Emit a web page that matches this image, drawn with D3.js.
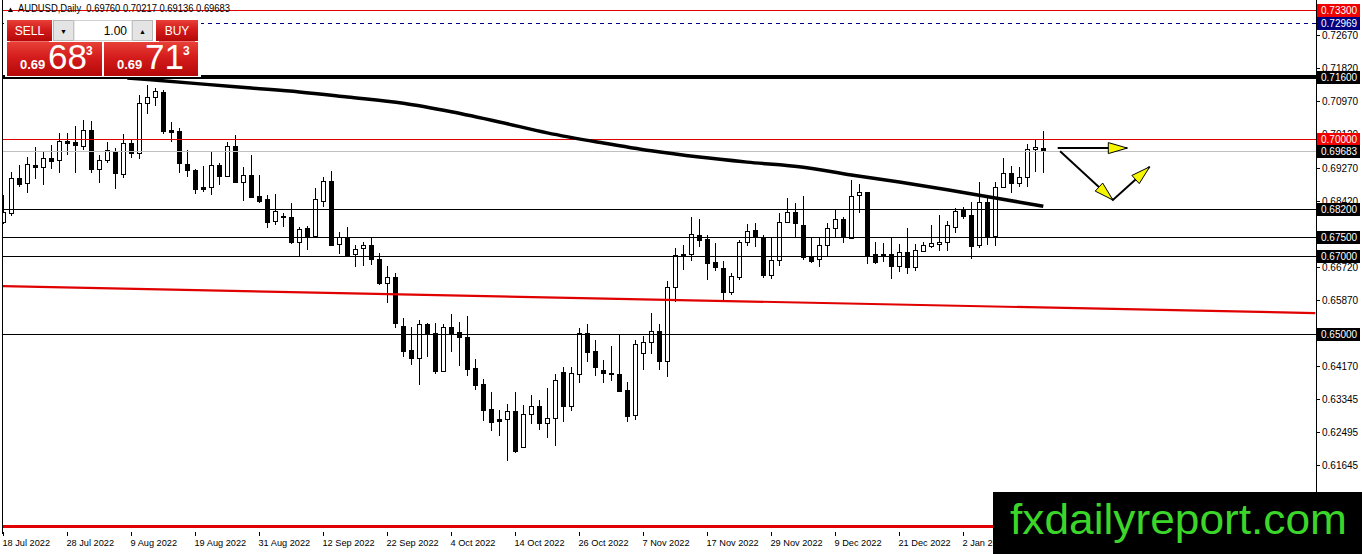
<!DOCTYPE html>
<html>
<head>
<meta charset="utf-8">
<script src="https://cdn.jsdelivr.net/npm/d3@7"></script>
<style>
  body { margin: 0; background: #fff; overflow: hidden; }
  svg { display: block; }
  text { font-family: "Liberation Sans", Arial, sans-serif; }
</style>
</head>
<body>
<svg id="chart" width="1362" height="554"></svg>
<script>
// daily AUDUSD candles, 18 Jul 2022 .. 16 Jan 2023 (one entry per weekday)
const opens = [
  0.6787, 0.6810, 0.6900, 0.6887, 0.6933, 0.6928, 0.6951, 0.6946, 0.6995, 0.6993,
  0.6983, 0.7023, 0.6923, 0.6946, 0.6969, 0.6911, 0.6990, 0.6964, 0.7092, 0.7108,
  0.7121, 0.7023, 0.7020, 0.6936, 0.6921, 0.6877, 0.6877, 0.6933, 0.6905, 0.6983,
  0.6890, 0.6908, 0.6854, 0.6846, 0.6790, 0.6803, 0.6800, 0.6736, 0.6772, 0.6751,
  0.6841, 0.6892, 0.6731, 0.6749, 0.6705, 0.6721, 0.6728, 0.6692, 0.6631, 0.6646,
  0.6520, 0.6459, 0.6438, 0.6526, 0.6502, 0.6405, 0.6518, 0.6505, 0.6492, 0.6413,
  0.6372, 0.6308, 0.6282, 0.6282, 0.6302, 0.6210, 0.6295, 0.6315, 0.6272, 0.6284,
  0.6402, 0.6315, 0.6397, 0.6502, 0.6456, 0.6407, 0.6400, 0.6397, 0.6356, 0.6292,
  0.6451, 0.6479, 0.6508, 0.6431, 0.6620, 0.6703, 0.6705, 0.6754, 0.6744, 0.6685,
  0.6669, 0.6608, 0.6646, 0.6736, 0.6767, 0.6749, 0.6651, 0.6690, 0.6787, 0.6813,
  0.6779, 0.6697, 0.6692, 0.6728, 0.6772, 0.6795, 0.6746, 0.6856, 0.6864, 0.6705,
  0.6705, 0.6705, 0.6674, 0.6710, 0.6672, 0.6713, 0.6726, 0.6731, 0.6736, 0.6774,
  0.6821, 0.6805, 0.6728, 0.6838, 0.6751, 0.6877, 0.6913, 0.6887, 0.6903, 0.6974,
  0.69760
];
const highs = [
  0.6856, 0.6916, 0.6933, 0.6954, 0.6980, 0.6967, 0.6985, 0.7015, 0.7015, 0.7033,
  0.7049, 0.7046, 0.6959, 0.6993, 0.6977, 0.7013, 0.6998, 0.7113, 0.7139, 0.7131,
  0.7126, 0.7044, 0.7028, 0.6972, 0.6923, 0.6931, 0.6967, 0.6938, 0.6993, 0.7010,
  0.6928, 0.6959, 0.6908, 0.6856, 0.6859, 0.6810, 0.6836, 0.6774, 0.6777, 0.6874,
  0.6903, 0.6918, 0.6762, 0.6774, 0.6728, 0.6736, 0.6749, 0.6708, 0.6674, 0.6656,
  0.6541, 0.6518, 0.6536, 0.6528, 0.6528, 0.6526, 0.6551, 0.6531, 0.6546, 0.6436,
  0.6385, 0.6351, 0.6305, 0.6320, 0.6351, 0.6318, 0.6343, 0.6331, 0.6361, 0.6397,
  0.6415, 0.6415, 0.6515, 0.6526, 0.6484, 0.6433, 0.6469, 0.6497, 0.6377, 0.6484,
  0.6495, 0.6554, 0.6526, 0.6636, 0.6720, 0.6728, 0.6800, 0.6795, 0.6754, 0.6733,
  0.6687, 0.6656, 0.6741, 0.6782, 0.6785, 0.6754, 0.6749, 0.6810, 0.6849, 0.6836,
  0.6854, 0.6749, 0.6746, 0.6785, 0.6818, 0.6800, 0.6895, 0.6885, 0.6864, 0.6736,
  0.6733, 0.6746, 0.6731, 0.6772, 0.6731, 0.6736, 0.6779, 0.6805, 0.6790, 0.6823,
  0.6826, 0.6838, 0.6890, 0.6851, 0.6890, 0.6951, 0.6931, 0.6928, 0.6987, 0.6998,
  0.70217
];
const lows = [
  0.6782, 0.6803, 0.6877, 0.6861, 0.6898, 0.6882, 0.6923, 0.6913, 0.6959, 0.6913,
  0.6972, 0.6913, 0.6887, 0.6938, 0.6872, 0.6900, 0.6951, 0.6949, 0.7065, 0.7085,
  0.7013, 0.6993, 0.6913, 0.6903, 0.6859, 0.6864, 0.6856, 0.6882, 0.6903, 0.6887,
  0.6841, 0.6849, 0.6836, 0.6772, 0.6779, 0.6774, 0.6731, 0.6700, 0.6715, 0.6749,
  0.6826, 0.6726, 0.6705, 0.6700, 0.6672, 0.6674, 0.6677, 0.6626, 0.6579, 0.6515,
  0.6441, 0.6420, 0.6369, 0.6441, 0.6397, 0.6402, 0.6454, 0.6418, 0.6392, 0.6356,
  0.6277, 0.6251, 0.6238, 0.6174, 0.6195, 0.6208, 0.6269, 0.6254, 0.6233, 0.6213,
  0.6274, 0.6302, 0.6374, 0.6428, 0.6392, 0.6374, 0.6379, 0.6351, 0.6274, 0.6279,
  0.6407, 0.6449, 0.6407, 0.6390, 0.6582, 0.6664, 0.6687, 0.6723, 0.6638, 0.6662,
  0.6587, 0.6600, 0.6638, 0.6726, 0.6723, 0.6644, 0.6641, 0.6674, 0.6785, 0.6749,
  0.6690, 0.6682, 0.6672, 0.6700, 0.6746, 0.6733, 0.6744, 0.6810, 0.6680, 0.6680,
  0.6685, 0.6641, 0.6659, 0.6654, 0.6662, 0.6710, 0.6721, 0.6713, 0.6713, 0.6759,
  0.6795, 0.6692, 0.6720, 0.6728, 0.6726, 0.6877, 0.6861, 0.6877, 0.6877, 0.6916,
  0.69136
];
const closes = [
  0.6813, 0.6900, 0.6885, 0.6936, 0.6928, 0.6951, 0.6943, 0.6995, 0.6990, 0.6985,
  0.7023, 0.6923, 0.6946, 0.6972, 0.6913, 0.6990, 0.6964, 0.7092, 0.7108, 0.7123,
  0.7020, 0.7018, 0.6938, 0.6921, 0.6872, 0.6872, 0.6933, 0.6905, 0.6983, 0.6890,
  0.6908, 0.6851, 0.6841, 0.6787, 0.6815, 0.6800, 0.6736, 0.6769, 0.6751, 0.6846,
  0.6892, 0.6728, 0.6749, 0.6703, 0.6718, 0.6728, 0.6692, 0.6631, 0.6646, 0.6528,
  0.6456, 0.6438, 0.6526, 0.6502, 0.6405, 0.6518, 0.6502, 0.6492, 0.6410, 0.6369,
  0.6305, 0.6274, 0.6277, 0.6302, 0.6200, 0.6295, 0.6315, 0.6272, 0.6284, 0.6382,
  0.6315, 0.6400, 0.6502, 0.6454, 0.6415, 0.6400, 0.6397, 0.6354, 0.6290, 0.6474,
  0.6479, 0.6508, 0.6431, 0.6620, 0.6703, 0.6705, 0.6757, 0.6741, 0.6682, 0.6672,
  0.6608, 0.6649, 0.6736, 0.6764, 0.6751, 0.6651, 0.6690, 0.6787, 0.6813, 0.6785,
  0.6697, 0.6687, 0.6728, 0.6772, 0.6795, 0.6749, 0.6854, 0.6864, 0.6703, 0.6685,
  0.6700, 0.6674, 0.6710, 0.6672, 0.6715, 0.6728, 0.6733, 0.6736, 0.6779, 0.6815,
  0.6803, 0.6726, 0.6838, 0.6751, 0.6877, 0.6913, 0.6887, 0.6903, 0.6974, 0.6980,
  0.69683
];

// slow moving average, read at a few bars
const maBars   = [15.5, 25, 31, 37, 43, 50, 56, 62, 68, 75, 81, 87, 93, 100, 106, 112, 118, 124, 130];
const maValues = [0.7157, 0.7141, 0.7131, 0.7121, 0.7108, 0.7092, 0.7070, 0.7044, 0.7016, 0.6990,
                  0.6970, 0.6954, 0.6941, 0.6928, 0.6908, 0.6890, 0.6870, 0.6849, 0.6828];

// red sloping support line (bar, price)
const trendBars   = [-0.4, 164];
const trendPrices = [0.6623, 0.6554];

// horizontal levels
const levelPrices = [0.73300, 0.72969, 0.71600, 0.70000, 0.69683, 0.68200, 0.67500, 0.67000, 0.65000, 0.60080];
const levelKinds  = ["red", "navy", "thick", "red", "bid", "black", "black", "black", "black", "redthick"];

// axis ticks
const priceTicks = [0.72670, 0.71820, 0.70970, 0.70120, 0.69270, 0.68420, 0.66720, 0.65870, 0.64170, 0.63345, 0.62495, 0.61645];
const dateTickBars = [0, 8, 16, 24, 32, 40, 48, 56, 64, 72, 80, 88, 96, 104, 112, 120];
const dateLabels = ["18 Jul 2022", "28 Jul 2022", "9 Aug 2022", "19 Aug 2022", "31 Aug 2022", "12 Sep 2022",
  "22 Sep 2022", "4 Oct 2022", "14 Oct 2022", "26 Oct 2022", "7 Nov 2022", "17 Nov 2022",
  "29 Nov 2022", "9 Dec 2022", "21 Dec 2022", "2 Jan 2023"];

// scenario arrows (bar, price)
const arrowFlat = [[131.8, 0.6977], [140.5, 0.6977]];
const arrowVee  = [[132.1, 0.6969], [138.7, 0.6844], [143.3, 0.6929]];

const symbolName = "AUDUSD,Daily";
const bid = 0.69683, ask = 0.69713;
const lotSize = "1.00";

// ---------------------------------------------------------------
const svg = d3.select("#chart");
const plotRight = 1316, plotBottom = 531;

const x = d3.scaleLinear().domain([0, 164]).range([3.3, 1315.3]);
const y = d3.scaleLinear().domain([0.59952, 0.73567]).range([plotBottom, 0]);
const px = v => Math.round(x(v)) + 0.5;

const candles = opens.map((o, i) => ({ i, o, h: highs[i], l: lows[i], c: closes[i] }));

svg.append("clipPath").attr("id", "plotClip")
  .append("rect").attr("x", 3).attr("y", 0).attr("width", plotRight - 3).attr("height", plotBottom);

const defs = svg.append("defs");
const grad = defs.append("linearGradient").attr("id", "redBtn").attr("x1", 0).attr("y1", 0).attr("x2", 0).attr("y2", 1);
grad.append("stop").attr("offset", "0%").attr("stop-color", "#e84038");
grad.append("stop").attr("offset", "45%").attr("stop-color", "#d41c1c");
grad.append("stop").attr("offset", "100%").attr("stop-color", "#b50808");

const plotG = svg.append("g").attr("clip-path", "url(#plotClip)");

// candles
const cg = plotG.append("g");
cg.selectAll("line.wick")
  .data(candles)
  .join("line")
    .attr("class", "wick")
    .attr("x1", d => px(d.i)).attr("x2", d => px(d.i))
    .attr("y1", d => Math.round(y(d.h))).attr("y2", d => Math.round(y(d.l)))
    .attr("stroke", "#000").attr("stroke-width", 1);

cg.selectAll("rect.body")
  .data(candles)
  .join("rect")
    .attr("class", "body")
    .attr("x", d => px(d.i) - 2)
    .attr("width", 4)
    .attr("y", d => Math.round(y(Math.max(d.o, d.c))) + 0.5)
    .attr("height", d => Math.max(1, Math.round(Math.abs(y(d.o) - y(d.c)))))
    .attr("fill", d => d.c >= d.o ? "#fff" : "#000")
    .attr("stroke", "#000").attr("stroke-width", 1);

// horizontal levels
const levelStyle = {
  red:      { stroke: "#e00000", w: 1 },
  navy:     { stroke: "#000080", w: 1, dash: "4,4" },
  thick:    { stroke: "#000", w: 4 },
  bid:      { stroke: "#c0c0c0", w: 1 },
  black:    { stroke: "#000", w: 1 },
  redthick: { stroke: "#e00000", w: 3 }
};
plotG.append("g").selectAll("line")
  .data(levelPrices.map((p, k) => ({ p, kind: levelKinds[k] })))
  .join("line")
    .attr("x1", 0).attr("x2", plotRight)
    .attr("y1", d => Math.round(y(d.p)) + (levelStyle[d.kind].w % 2 ? 0.5 : 0))
    .attr("y2", d => Math.round(y(d.p)) + (levelStyle[d.kind].w % 2 ? 0.5 : 0))
    .attr("stroke", d => levelStyle[d.kind].stroke)
    .attr("stroke-width", d => levelStyle[d.kind].w)
    .attr("stroke-dasharray", d => levelStyle[d.kind].dash || null);

// sloping red line
plotG.append("path")
  .datum(trendBars.map((b, k) => [b, trendPrices[k]]))
  .attr("d", d3.line().x(d => x(d[0])).y(d => y(d[1])))
  .attr("fill", "none").attr("stroke", "#e00000").attr("stroke-width", 2.2);

// moving average
plotG.append("path")
  .datum(maBars.map((b, k) => [b, maValues[k]]))
  .attr("d", d3.line().x(d => x(d[0])).y(d => y(d[1])).curve(d3.curveMonotoneX))
  .attr("fill", "none").attr("stroke", "#000").attr("stroke-width", 3.5);

// arrows
function arrowHead(g, from, to) {
  const x0 = x(from[0]), y0 = y(from[1]), x1 = x(to[0]), y1 = y(to[1]);
  const a = Math.atan2(y1 - y0, x1 - x0), len = 19, hw = 5.5;
  const bx = x1 - len * Math.cos(a), by = y1 - len * Math.sin(a);
  const pts = [[x1, y1],
    [bx + hw * Math.sin(a), by - hw * Math.cos(a)],
    [bx - hw * Math.sin(a), by + hw * Math.cos(a)]];
  g.append("path").attr("d", "M" + pts.join("L") + "Z")
    .attr("fill", "#f5f500").attr("stroke", "#000").attr("stroke-width", 1);
}
const ag = plotG.append("g");
const arrowLine = d3.line().x(d => x(d[0])).y(d => y(d[1]));
ag.append("path").datum(arrowFlat).attr("d", arrowLine)
  .attr("fill", "none").attr("stroke", "#000").attr("stroke-width", 2);
arrowHead(ag, arrowFlat[0], arrowFlat[1]);
ag.append("path").datum(arrowVee).attr("d", arrowLine)
  .attr("fill", "none").attr("stroke", "#000").attr("stroke-width", 2);
arrowHead(ag, arrowVee[0], arrowVee[1]);
arrowHead(ag, arrowVee[1], arrowVee[2]);

// frame (left edge and price-axis edge only, no bottom rule)
svg.append("line").attr("x1", 2.5).attr("x2", 2.5).attr("y1", 0).attr("y2", plotBottom + 3).attr("stroke", "#000");
svg.append("line").attr("x1", plotRight + 0.5).attr("x2", plotRight + 0.5).attr("y1", 0).attr("y2", plotBottom).attr("stroke", "#000");

// price axis
const pa = svg.append("g");
pa.selectAll("line")
  .data(priceTicks)
  .join("line")
    .attr("x1", plotRight).attr("x2", plotRight + 4)
    .attr("y1", d => Math.round(y(d)) + 0.5).attr("y2", d => Math.round(y(d)) + 0.5)
    .attr("stroke", "#000");
pa.selectAll("text")
  .data(priceTicks)
  .join("text")
    .attr("x", plotRight + 6).attr("y", d => y(d) + 4)
    .attr("font-size", 10).attr("fill", "#000")
    .text(d => d.toFixed(5));

const boxFill = { red: "#f00000", navy: "#000080" };
const boxes = levelPrices.map((p, k) => ({ p, kind: levelKinds[k] })).filter(d => d.kind !== "redthick");
const bg = svg.append("g");
bg.selectAll("rect")
  .data(boxes)
  .join("rect")
    .attr("x", plotRight + 1).attr("width", 43)
    .attr("y", d => Math.round(y(d.p)) - 6).attr("height", 13)
    .attr("fill", d => boxFill[d.kind] || "#000");
bg.selectAll("text")
  .data(boxes)
  .join("text")
    .attr("x", plotRight + 5).attr("y", d => Math.round(y(d.p)) + 4)
    .attr("font-size", 10).attr("fill", "#fff")
    .text(d => d.p.toFixed(5));

// time axis
const ta = svg.append("g");
ta.selectAll("line")
  .data(dateTickBars)
  .join("line")
    .attr("x1", d => px(d)).attr("x2", d => px(d))
    .attr("y1", plotBottom + 1).attr("y2", plotBottom + 5)
    .attr("stroke", "#000");
ta.selectAll("text")
  .data(dateTickBars)
  .join("text")
    .attr("x", d => px(d) - 1).attr("y", plotBottom + 15)
    .attr("font-size", 9.2).attr("fill", "#000")
    .text((d, k) => dateLabels[k]);

// header line
const last = candles[candles.length - 1];
svg.append("path").attr("d", "M8,12 L10.5,7.5 L13,12 Z").attr("fill", "#000");
svg.append("text")
  .attr("x", 18).attr("y", 12).attr("font-size", 10).attr("fill", "#000")
  .attr("textLength", 212).attr("lengthAdjust", "spacingAndGlyphs")
  .style("white-space", "pre")
  .text(symbolName + "  " + [last.o, last.h, last.l, last.c].map(v => v.toFixed(5)).join(" "));

// one-click trading panel
const panel = svg.append("g");
panel.append("rect").attr("x", 5).attr("y", 18).attr("width", 196).attr("height", 59).attr("fill", "#fff");

function redButton(x0, w, label) {
  panel.append("rect").attr("x", x0).attr("y", 20).attr("width", w).attr("height", 21).attr("fill", "url(#redBtn)");
  panel.append("line").attr("x1", x0 + 3).attr("x2", x0 + w - 3).attr("y1", 41.5).attr("y2", 41.5).attr("stroke", "#f07070");
  panel.append("text").attr("x", x0 + w / 2).attr("y", 35).attr("text-anchor", "middle")
    .attr("font-size", 12).attr("fill", "#fff").text(label);
}
redButton(7, 45, "SELL");
redButton(156, 42, "BUY");

[[53, "\u25BC"], [132, "\u25B2"]].forEach(([x0, glyph]) => {
  panel.append("rect").attr("x", x0 + 0.5).attr("y", 20.5).attr("width", 20).attr("height", 20)
    .attr("fill", "#e4e4e4").attr("stroke", "#b8b8b8");
  panel.append("text").attr("x", x0 + 10.5).attr("y", 33.5).attr("text-anchor", "middle")
    .attr("font-size", 7).attr("fill", "#000").text(glyph);
});
panel.append("rect").attr("x", 74).attr("y", 20.5).attr("width", 58).attr("height", 20)
  .attr("fill", "#fff").attr("stroke", "#d0d0d0");
panel.append("text").attr("x", 127).attr("y", 35).attr("text-anchor", "end")
  .attr("font-size", 12).attr("fill", "#000").text(lotSize);

function quoteBox(x0, w, price) {
  const s = price.toFixed(5);
  panel.append("rect").attr("x", x0).attr("y", 42).attr("width", w).attr("height", 34).attr("fill", "url(#redBtn)");
  panel.append("text").attr("x", x0 + 13).attr("y", 69).attr("font-size", 13).attr("font-weight", "bold")
    .attr("fill", "#fff").text(s.slice(0, 4));
  panel.append("text").attr("x", x0 + 41).attr("y", 69).attr("font-size", 35)
    .attr("fill", "#fff").text(s.slice(4, 6));
  panel.append("text").attr("x", x0 + 79).attr("y", 55).attr("font-size", 12).attr("font-weight", "bold")
    .attr("fill", "#fff").text(s.slice(6));
}
quoteBox(7, 95, bid);
quoteBox(104, 94, ask);

// watermark
svg.append("rect").attr("x", 993).attr("y", 492).attr("width", 369).attr("height", 62).attr("fill", "#000");
svg.append("text")
  .attr("x", 1010).attr("y", 534)
  .attr("font-size", 43).attr("fill", "#3cd62a")
  .attr("textLength", 337).attr("lengthAdjust", "spacingAndGlyphs")
  .text("fxdailyreport.com");
</script>
</body>
</html>
